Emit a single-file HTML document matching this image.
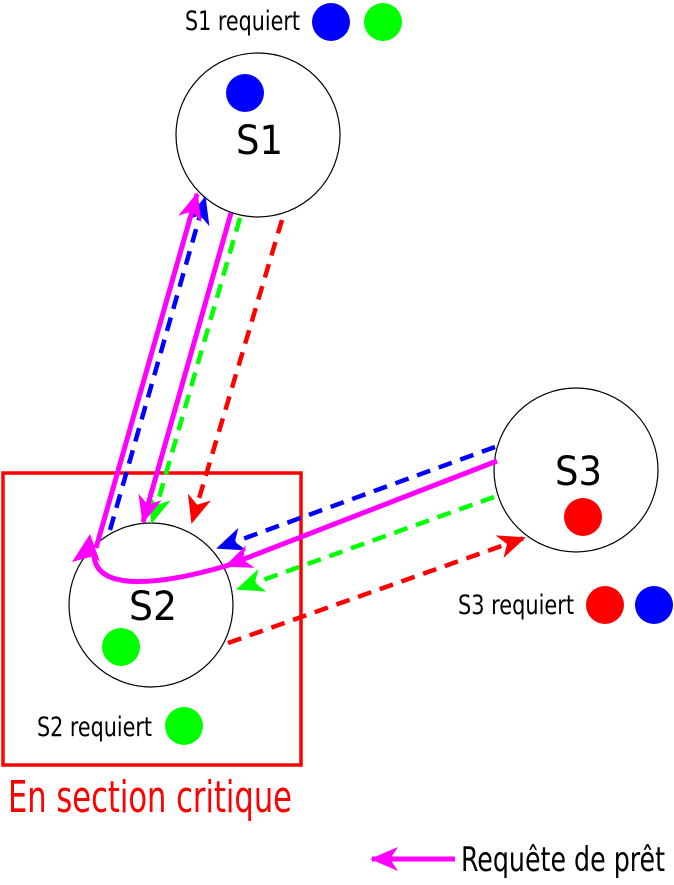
<!DOCTYPE html>
<html><head><meta charset="utf-8"><style>
html,body{margin:0;padding:0;background:#fff;width:674px;height:885px;overflow:hidden}
svg{display:block}
text{font-family:"DejaVu Sans Condensed","DejaVu Sans","Liberation Sans",sans-serif}
</style></head><body>
<svg width="674" height="885" viewBox="0 0 674 885">
<defs>
<marker id="mM" markerWidth="1" markerHeight="1" refX="0" refY="0" orient="auto" markerUnits="userSpaceOnUse" style="overflow:visible"><path d="M-26,-12 L2,0 L-26,12 L-18,0 Z" fill="#ff00ff"/></marker>
<marker id="mB" markerWidth="1" markerHeight="1" refX="0" refY="0" orient="auto" markerUnits="userSpaceOnUse" style="overflow:visible"><path d="M-26,-12 L2,0 L-26,12 L-18,0 Z" fill="#0000ff"/></marker>
<marker id="mG" markerWidth="1" markerHeight="1" refX="0" refY="0" orient="auto" markerUnits="userSpaceOnUse" style="overflow:visible"><path d="M-26,-12 L2,0 L-26,12 L-18,0 Z" fill="#00ff00"/></marker>
<marker id="mR" markerWidth="1" markerHeight="1" refX="0" refY="0" orient="auto" markerUnits="userSpaceOnUse" style="overflow:visible"><path d="M-26,-12 L2,0 L-26,12 L-18,0 Z" fill="#ff0000"/></marker>
</defs>

<rect x="3" y="473" width="298" height="292" fill="none" stroke="#ff0000" stroke-width="3.5"/>
<text x="8" y="812" font-size="44" fill="#ff0000" textLength="284" lengthAdjust="spacingAndGlyphs">En section critique</text>

<circle cx="258" cy="135" r="82" fill="#fff" stroke="#000" stroke-width="1.2"/>
<circle cx="151" cy="605" r="82" fill="#fff" stroke="#000" stroke-width="1.2"/>
<circle cx="576" cy="470" r="82" fill="#fff" stroke="#000" stroke-width="1.2"/>
<text x="236" y="154" font-size="40" textLength="47" lengthAdjust="spacingAndGlyphs">S1</text>
<text x="129" y="620" font-size="40" textLength="48" lengthAdjust="spacingAndGlyphs">S2</text>
<text x="555" y="485" font-size="40" textLength="47" lengthAdjust="spacingAndGlyphs">S3</text>
<circle cx="245" cy="93" r="19" fill="#0000ff"/>
<circle cx="121" cy="647" r="19" fill="#00ff00"/>
<circle cx="583" cy="517" r="19" fill="#ff0000"/>

<text x="185" y="30" font-size="27" textLength="115" lengthAdjust="spacingAndGlyphs">S1 requiert</text>
<circle cx="331" cy="22" r="19" fill="#0000ff"/>
<circle cx="383" cy="22" r="19" fill="#00ff00"/>
<text x="37" y="736" font-size="27" textLength="115" lengthAdjust="spacingAndGlyphs">S2 requiert</text>
<circle cx="184" cy="726" r="19" fill="#00ff00"/>
<text x="458" y="614" font-size="27" textLength="116" lengthAdjust="spacingAndGlyphs">S3 requiert</text>
<circle cx="605" cy="605" r="19" fill="#ff0000"/>
<circle cx="654" cy="605" r="19" fill="#0000ff"/>

<g fill="none" stroke-width="4.5" stroke-dasharray="14,9">
<line x1="110" y1="530" x2="205" y2="198" stroke="#0000ff" marker-end="url(#mB)"/>
<line x1="240" y1="218" x2="152" y2="522" stroke="#00ff00" marker-end="url(#mG)"/>
<line x1="282" y1="220" x2="192" y2="522" stroke="#ff0000" marker-end="url(#mR)"/>
<line x1="495" y1="447" x2="218" y2="548" stroke="#0000ff" marker-end="url(#mB)"/>
<line x1="494" y1="497" x2="238" y2="589" stroke="#00ff00" marker-end="url(#mG)"/>
<line x1="228" y1="643" x2="524" y2="538" stroke="#ff0000" marker-end="url(#mR)"/>
</g>
<g fill="none" stroke="#ff00ff" stroke-width="5">
<line x1="231" y1="213" x2="143" y2="522" marker-end="url(#mM)"/>
<line x1="497" y1="461" x2="226" y2="566" marker-end="url(#mM)"/>
<path d="M226,566 C160,585 96,592 94,555"/>
<line x1="96" y1="548" x2="197" y2="194" marker-end="url(#mM)"/>
<path d="M72,562 L90,534 L100,562 L94,556 Z" fill="#ff00ff" stroke="none"/>
<line x1="455" y1="859" x2="372" y2="859" marker-end="url(#mM)"/>
</g>
<text x="461" y="871" font-size="34" textLength="204" lengthAdjust="spacingAndGlyphs">Requête de prêt</text>
</svg>
</body></html>
